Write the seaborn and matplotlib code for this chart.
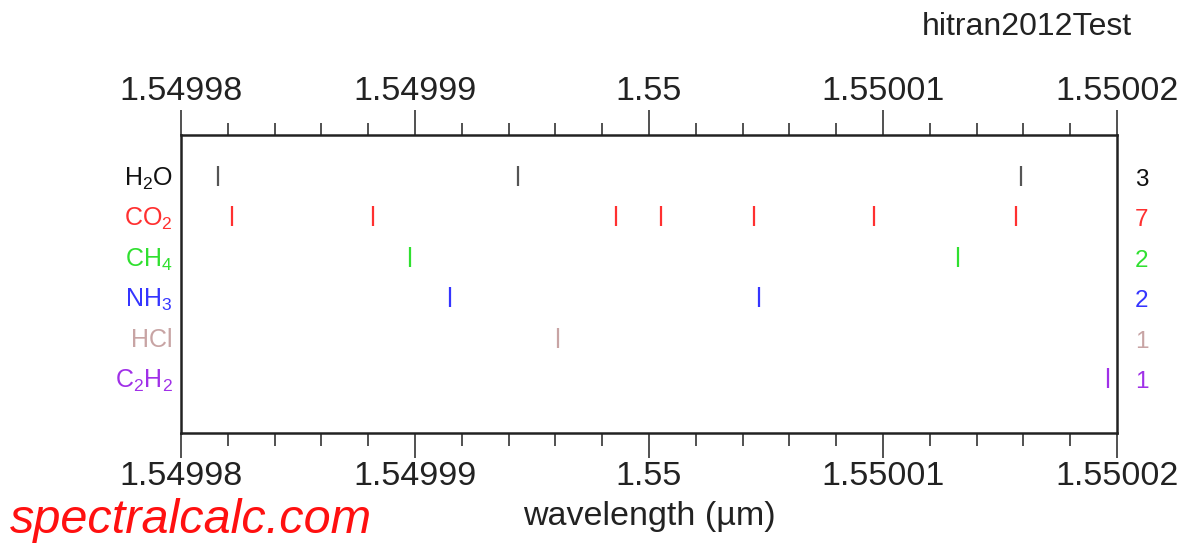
import numpy as np
import pandas as pd
import matplotlib
matplotlib.use("Agg")
import matplotlib.pyplot as plt
from matplotlib.ticker import MultipleLocator, FuncFormatter
from matplotlib.transforms import offset_copy
import seaborn as sns

# ---- data (wavelength in micrometres) ----
molecules = ["H2O", "CO2", "CH4", "NH3", "HCl", "C2H2"]
labels = ["H$_2$O", "CO$_2$", "CH$_4$", "NH$_3$", "HCl", "C$_2$H$_2$"]
h2o = [1.5499816, 1.5499944, 1.5500159]
co2 = [1.5499822, 1.5499882, 1.5499986, 1.5500005, 1.5500045, 1.5500096, 1.5500157]
ch4 = [1.5499898, 1.5500132]
nh3 = [1.5499915, 1.5500047]
hcl = [1.5499961]
c2h2 = [1.5500196]
series = [h2o, co2, ch4, nh3, hcl, c2h2]
mark_colors = ["#555555", "#ff3030", "#30e030", "#3535ff", "#c8a4a4", "#a030e8"]
label_colors = ["#111111", "#ff3030", "#30e030", "#3535ff", "#c8a4a4", "#a030e8"]
xmin, xmax = 1.54998, 1.55002

rows = []
for i, (m, vals) in enumerate(zip(molecules, series)):
    for v in vals:
        rows.append({"wavelength": v, "molecule": m, "row": i})
df = pd.DataFrame(rows)

sns.set_theme(style="ticks")
plt.rcParams["font.family"] = ["Liberation Sans", "DejaVu Sans"]
plt.rcParams["mathtext.fontset"] = "custom"
plt.rcParams["mathtext.rm"] = "Liberation Sans"
plt.rcParams["mathtext.it"] = "Liberation Sans:italic"

fig = plt.figure(figsize=(11.87, 5.45), dpi=100)
ax = fig.add_axes([181 / 1187, 1 - 433 / 545, (1117 - 181) / 1187, (433 - 135) / 545])

sns.scatterplot(data=df, x="wavelength", y="row", hue="molecule",
                palette=dict(zip(molecules, mark_colors)), marker="|",
                s=210, linewidth=1.6, legend=False, ax=ax)

ax.set_xlim(xmin, xmax)
ax.set_ylim(6.36, -1.01)
ax.xaxis.set_major_locator(MultipleLocator(1e-5))
ax.xaxis.set_minor_locator(MultipleLocator(2e-6))
ax.xaxis.set_major_formatter(FuncFormatter(lambda v, p: "%g" % round(v, 6)))
ax.tick_params(axis="x", which="both", direction="out", top=True, labeltop=True,
               bottom=True, labelbottom=True, colors="#222222", labelsize=24.5)
ax.tick_params(axis="x", which="major", length=18, width=1.1, pad=2)
ax.tick_params(axis="x", which="minor", length=9, width=1.1)
for sp in ax.spines.values():
    sp.set_visible(True)
    sp.set_linewidth(1.8)
    sp.set_color("#222222")

ax.set_yticks(range(len(molecules)))
ax.set_yticklabels(labels, fontsize=18)
ax.tick_params(axis="y", length=0, pad=6)
for t, c in zip(ax.get_yticklabels(), label_colors):
    t.set_color(c)

count_tr = offset_copy(ax.get_yaxis_transform(), fig=fig, x=0, y=-4, units="dots")
for i, (vals, c) in enumerate(zip(series, label_colors)):
    ax.text(1.019, i, str(len(vals)), color=c, fontsize=17.5, va="center", ha="left",
            transform=count_tr)

ax.set_xlabel("wavelength (\u00b5m)", fontsize=24.5, color="#222222", labelpad=7)
ax.set_ylabel("")

fig.text(1132 / 1187, 1 - 35 / 545, "hitran2012Test", fontsize=23, ha="right",
         va="baseline", color="#222222")
fig.text(10 / 1187, 1 - 533 / 545, "spectralcalc.com", fontsize=35, ha="left",
         va="baseline", color="#ff1010", style="italic")

fig.savefig("out.png", dpi=100)
